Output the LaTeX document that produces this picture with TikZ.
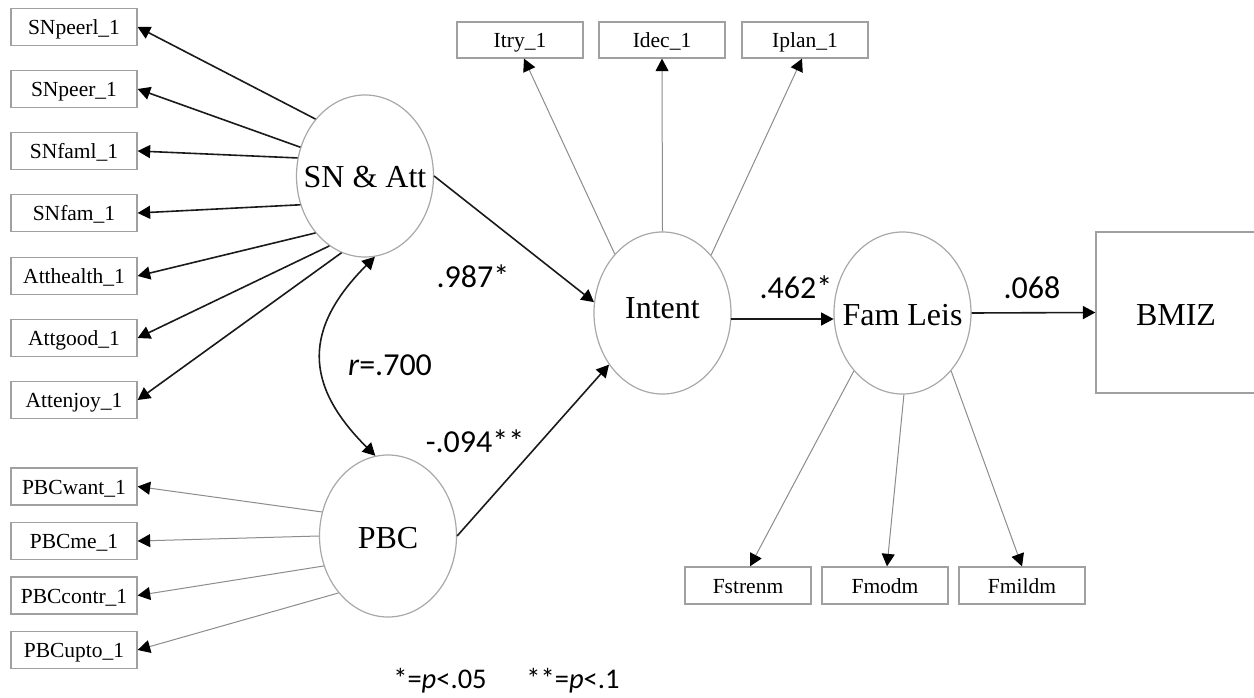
\documentclass[tikz,border=0pt]{standalone}
\usepackage{fontspec}
\setmainfont{Liberation Serif}
\newfontfamily\numfont{Carlito}
\usetikzlibrary{arrows.meta,shapes.geometric}
\definecolor{boxgray}{HTML}{A0A0A0}
\definecolor{ellgray}{HTML}{A8A8A8}
\definecolor{linegray}{HTML}{8C8C8C}
\definecolor{darkline}{HTML}{1A1A1A}
\begin{document}
\begin{tikzpicture}[x=1pt,y=-1pt,
  box/.style={draw=boxgray, line width=1.3pt, minimum width=126pt, minimum height=37pt,
    inner sep=0pt, font=\fontsize{21.5}{24}\selectfont, text height=15pt, text depth=0pt},
  topbox/.style={box, minimum height=36pt},
  lat/.style={draw=ellgray, ellipse, line width=1.2pt, minimum width=137pt,
    minimum height=162pt, inner sep=0pt},
  big/.style={font=\fontsize{32}{36}\selectfont, anchor=base, inner sep=0pt},
  num/.style={font=\numfont\fontsize{32}{36}\selectfont, anchor=base, inner sep=0pt},
  foot/.style={font=\numfont\fontsize{28.5}{32}\selectfont, anchor=base, inner sep=0pt},
  strong/.style={draw=darkline, line width=1.6pt, -{Triangle[length=12.5pt,width=13pt,color=black]}},
  weak/.style={draw=linegray, line width=1pt, -{Triangle[length=12.5pt,width=13pt,color=black]}},
  cov/.style={draw=darkline, line width=1.6pt,
    {Triangle[length=12.5pt,width=13pt,color=black]}-{Triangle[length=12.5pt,width=13pt,color=black]}}
]
\useasboundingbox (0,0) rectangle (1254,698);

% latent variables
\node[lat] (sn) at (365,176) {};
\node[lat] (pbc) at (388,536) {};
\node[lat] (intent) at (662.5,313) {};
\node[lat] (fam) at (902.5,313) {};
\node[big] (snlab) at ([yshift=-12pt]sn.center) {SN \& Att};
\node[big] (pbclab) at ([yshift=-12pt]pbc.center) {PBC};
\node[big] (intlab) at ([yshift=-5pt]intent.center) {Intent};
\node[big] (famlab) at ([yshift=-12pt]fam.center) {Fam Leis};

% outcome
\node[draw=boxgray, line width=1.3pt, minimum width=160pt, minimum height=161pt, inner sep=0pt]
  (bmiz) at (1176,312.5) {};
\node[big] (bmizlab) at ([yshift=-12pt]1176,313) {BMIZ};

% SN & Att indicators
\node[box] (b1) at (74,27) {SNpeerl\_1};
\node[box] (b2) at (74,89) {SNpeer\_1};
\node[box] (b3) at (74,151) {SNfaml\_1};
\node[box] (b4) at (74,213) {SNfam\_1};
\node[box] (b5) at (74,276) {Atthealth\_1};
\node[box] (b6) at (74,338) {Attgood\_1};
\node[box] (b7) at (74,400) {Attenjoy\_1};

% PBC indicators
\node[box] (p1) at (74,486.5) {PBCwant\_1};
\node[box] (p2) at (74,541) {PBCme\_1};
\node[box] (p3) at (74,595.5) {PBCcontr\_1};
\node[box] (p4) at (74,650) {PBCupto\_1};

% Intent indicators
\node[topbox] (itry) at (520,40) {Itry\_1};
\node[topbox] (idec) at (662,40) {Idec\_1};
\node[topbox] (iplan) at (805,40) {Iplan\_1};

% Fam Leis indicators
\node[box] (fs) at (748,585.5) {Fstrenm};
\node[box] (fm) at (885,585.5) {Fmodm};
\node[box] (fl) at (1022,585.5) {Fmildm};

% loadings SN
\draw[strong] (sn.131) -- (b1.east);
\draw[strong] (sn.156) -- (b2.east);
\draw[strong] (sn.165) -- (b3.east);
\draw[strong] (sn.204) -- (b4.east);
\draw[strong] (sn.229) -- (b5.east);
\draw[strong] (sn.243) -- (b6.east);
\draw[strong] (sn.253) -- (b7.east);

% loadings PBC
\draw[weak] (pbc.160) -- (p1.east);
\draw[weak] (pbc.180) -- (p2.east);
\draw[weak] (pbc.205) -- (p3.east);
\draw[weak] (pbc.229) -- (p4.east);

% loadings Intent
\draw[weak] (intent.129) -- ([xshift=4pt]itry.south);
\draw[weak] (intent.90) -- (idec.south);
\draw[weak] (intent.50) -- ([xshift=-3pt]iplan.south);

% loadings Fam Leis
\draw[weak] (fam.230) -- ([xshift=2pt]fs.north);
\draw[weak] (fam.271) -- ([xshift=2pt]fm.north);
\draw[weak] (fam.310) -- (fl.north);

% structural paths
\draw[strong] (sn.east) -- (intent.171);
\draw[strong] (pbc.east) -- (intent.224);
\draw[strong] (intent.-5) -- (fam.185);
\draw[strong] (fam.east) -- (bmiz.west);
\draw[cov] (sn.277) to[bend right=45, looseness=1.3] (pbc.99);

% coefficients
\node[num] (c987) at (473,287) {.987*};
\node[num] (c094) at (475,452) {-.094**};
\node[num] (c462) at (796,298) {.462*};
\node[num] (c068) at (1032,298) {.068};
\node[num] (r700) at (390,375) {\textit{r}=.700};

% footnote
\node[foot] (f1) at (440,688) {*=\textit{p}<.05};
\node[foot] (f2) at (573,688) {**=\textit{p}<.1};
\end{tikzpicture}
\end{document}
